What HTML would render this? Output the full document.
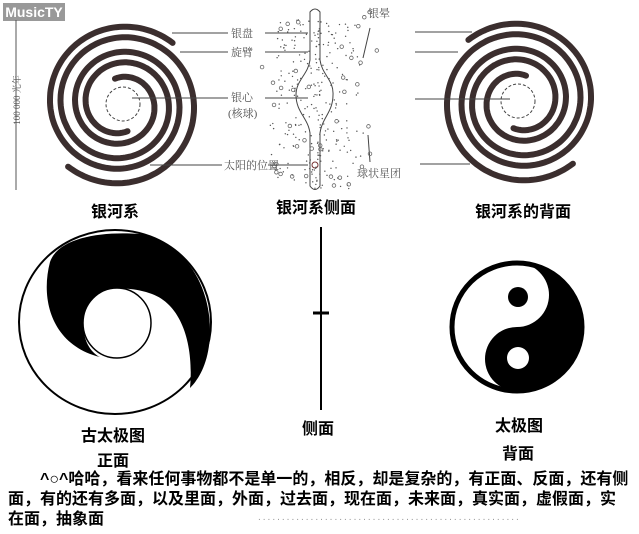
<!DOCTYPE html>
<html><head><meta charset="utf-8"><style>
body{margin:0;width:639px;height:534px;background:#fff;overflow:hidden;position:relative;font-family:"Liberation Sans","Noto Sans CJK SC",sans-serif}
.t{position:absolute;font-weight:bold;font-size:16px;color:#000;white-space:nowrap;transform:translate(-50%,-50%)}
.p{position:absolute;left:8px;top:470px;width:625px;font-weight:bold;font-size:16px;line-height:20px;color:#000}
svg{position:absolute;left:0;top:0}
</style></head><body>
<svg id="s" width="639" height="534" viewBox="0 0 639 534">
<rect x="3" y="3" width="62" height="18" fill="#999"/>
<text x="34" y="17" font-family="Liberation Sans" font-weight="bold" font-size="14" fill="#fff" text-anchor="middle">MusicTY</text>
<line x1="16" y1="20" x2="16" y2="190" stroke="#555" stroke-width="1"/>
<text x="20" y="100" font-size="9" fill="#555" font-family="Liberation Serif,Noto Serif CJK SC,serif" transform="rotate(-90 20 100)" text-anchor="middle">100 000 光年</text>
<g id="sp"></g>
<g font-family="Liberation Serif,Noto Serif CJK SC,serif" font-size="11" fill="#555">
<text x="231" y="37">银盘</text><text x="231" y="56">旋臂</text>
<text x="231" y="101">银心</text><text x="228" y="117">(核球)</text>
<text x="224" y="169">太阳的位置</text>
<text x="368" y="17">银晕</text><text x="357" y="177">球状星团</text>
</g>
<g stroke="#444" stroke-width="1" fill="none">
<line x1="228" y1="33" x2="172" y2="33"/><line x1="228" y1="52" x2="180" y2="52"/>
<line x1="228" y1="98" x2="132" y2="98"/><line x1="222" y1="165" x2="150" y2="165"/>
<line x1="265" y1="33" x2="308" y2="33"/><line x1="265" y1="52" x2="308" y2="52"/>
<line x1="265" y1="98" x2="308" y2="98"/><line x1="268" y1="165" x2="308" y2="165"/>
<line x1="415" y1="32" x2="472" y2="32"/><line x1="415" y1="52" x2="458" y2="52"/>
<line x1="415" y1="99" x2="510" y2="99"/><line x1="420" y1="164" x2="470" y2="164"/>
<line x1="370" y1="28" x2="363" y2="58"/><line x1="370" y1="162" x2="368" y2="135"/>
<path d="M310 12 Q315 6 320 12 L320 60 C322 75 334 80 333 95 C333 112 322 118 320 133 L320 186 Q315 193 310 186 L310 133 C308 118 296 112 296 95 C296 80 308 75 310 60 Z"/>
<circle cx="315" cy="165" r="3" stroke="#733"/>
</g>
<g id="dots"></g>
<ellipse cx="115" cy="322" rx="96" ry="92" fill="#fff" stroke="#000" stroke-width="2"/>
<path d="M100,357 C52,345 40,300 50,262 C58,238 100,231 140,234 C185,243 210,285 210,330 C210,360 200,378 190,388 C194,345 182,305 152,294 C130,286 100,285 88,305 C78,325 85,350 100,357 Z" fill="#000"/>
<ellipse cx="117" cy="323" rx="34" ry="35" fill="#fff" stroke="#000" stroke-width="1.5"/>
<line x1="321" y1="227" x2="321" y2="410" stroke="#000" stroke-width="2"/>
<line x1="313" y1="313" x2="329" y2="313" stroke="#000" stroke-width="3"/>
<ellipse cx="517" cy="327" rx="65" ry="64" fill="#fff"/>
<path d="M517,263 A64,64 0 0 1 517,391 A32,32 0 0 1 517,327 A32,32 0 0 0 517,263 Z" fill="#000"/>
<ellipse cx="517" cy="327" rx="65" ry="64" fill="none" stroke="#000" stroke-width="5"/>
<circle cx="518" cy="297" r="10" fill="#000"/>
<circle cx="518" cy="358" r="11" fill="#fff"/>
<text x="258" y="520" font-size="10" fill="#999" letter-spacing="2">.......................................................</text>
</svg>
<div class="t" style="left:115px;top:210px">银河系</div>
<div class="t" style="left:316px;top:206px">银河系侧面</div>
<div class="t" style="left:523px;top:210px">银河系的背面</div>
<div class="t" style="left:113px;top:434px">古太极图</div>
<div class="t" style="left:113px;top:459px">正面</div>
<div class="t" style="left:318px;top:427px">侧面</div>
<div class="t" style="left:519px;top:424px">太极图</div>
<div class="t" style="left:518px;top:452px">背面</div>
<div class="p"><span style="padding-left:32px">^○^哈哈，看来任何事物都不是单一的，相反，却是复杂的，有正面、反面，还有侧</span><br>面，有的还有多面，以及里面，外面，过去面，现在面，未来面，真实面，虚假面，实<br>在面，抽象面</div>
<script>
var NS="http://www.w3.org/2000/svg";
function spiral(cx,cy,mir,g){
 [[-0.87,80],[-0.87+Math.PI,82]].forEach(function(a){
  var te=a[0],re=a[1],b=4.0,L=13.5,d="";
  for(var i=0;i<=300;i++){var th=te-L+L*i/300;var r=re-b*(te-th);
   var x=cx+mir*r*Math.cos(th),y=cy+r*Math.sin(th);d+=(i?"L":"M")+x.toFixed(1)+","+y.toFixed(1);}
  var p=document.createElementNS(NS,"path");p.setAttribute("d",d);p.setAttribute("fill","none");
  p.setAttribute("stroke","#3b2e2e");p.setAttribute("stroke-width","6");p.setAttribute("stroke-linecap","round");g.appendChild(p);
 });
 var c=document.createElementNS(NS,"circle");c.setAttribute("cx",cx+mir*2);c.setAttribute("cy",cy);c.setAttribute("r",17);
 c.setAttribute("fill","none");c.setAttribute("stroke","#444");c.setAttribute("stroke-dasharray","3 2");g.appendChild(c);
}
var g=document.getElementById("sp");spiral(121,104,1,g);spiral(520,101,-1,g);
var dg=document.getElementById("dots"),sd=7;function rnd(){sd=(sd*9301+49297)%233280;return sd/233280;}
for(var i=0;i<500;i++){var x=270+rnd()*100,y=20+rnd()*170;var dx=Math.abs(x-315)/50;if(rnd()>1-dx)continue;
 var c=document.createElementNS(NS,"circle");c.setAttribute("cx",x);c.setAttribute("cy",y);c.setAttribute("r",0.7);c.setAttribute("fill","#555");dg.appendChild(c);}
for(var i=0;i<40;i++){var x=262+rnd()*115,y=12+rnd()*175;
 var c=document.createElementNS(NS,"circle");c.setAttribute("cx",x);c.setAttribute("cy",y);c.setAttribute("r",1.8);c.setAttribute("fill","none");c.setAttribute("stroke","#666");c.setAttribute("stroke-width","0.8");dg.appendChild(c);}
</script>
</body></html>
